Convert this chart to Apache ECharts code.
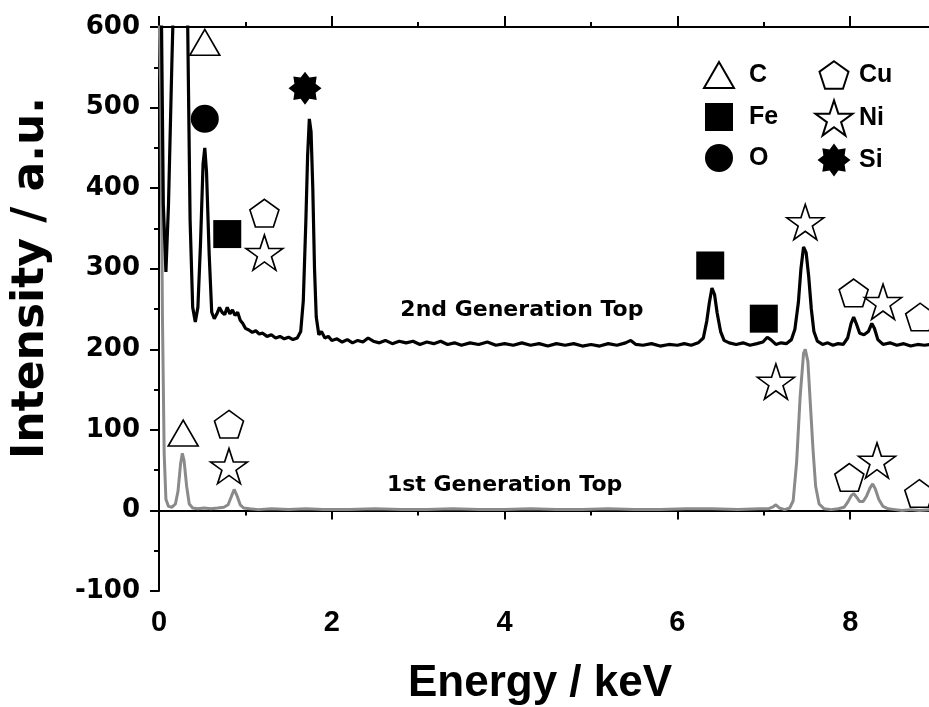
<!DOCTYPE html>
<html>
<head>
<meta charset="utf-8">
<script src="https://cdn.jsdelivr.net/npm/echarts@6/dist/echarts.min.js"></script>
<style>
  html, body { margin: 0; padding: 0; background: #fff; }
  #chart { width: 929px; height: 707px; }
</style>
</head>
<body>
<div id="chart"></div>
<script>
// EDS spectra: [energy keV, intensity a.u.]
const gen2Spectrum = [
  [0.00, 760], [0.02, 700], [0.05, 380], [0.08, 296], [0.11, 380], [0.15, 560],
  [0.19, 720], [0.24, 860], [0.29, 840], [0.33, 620], [0.36, 360], [0.39, 252],
  [0.42, 234], [0.45, 252], [0.48, 330], [0.51, 430], [0.53, 450], [0.55, 420],
  [0.58, 320], [0.61, 246], [0.64, 238], [0.67, 244], [0.70, 252], [0.73, 246],
  [0.76, 243], [0.79, 252], [0.82, 244], [0.85, 249], [0.88, 242], [0.91, 246],
  [0.94, 236], [0.97, 232], [1.00, 226], [1.04, 224], [1.08, 221], [1.12, 223],
  [1.16, 219], [1.20, 220], [1.25, 216], [1.30, 218], [1.35, 214], [1.40, 216],
  [1.45, 213], [1.50, 215], [1.55, 212], [1.60, 214], [1.64, 222], [1.67, 260],
  [1.70, 360], [1.72, 440], [1.74, 486], [1.76, 470], [1.78, 400], [1.80, 300],
  [1.82, 240], [1.85, 218], [1.88, 222], [1.92, 214], [1.96, 216], [2.00, 211],
  [2.06, 213], [2.12, 209], [2.18, 212], [2.24, 208], [2.30, 211], [2.36, 209],
  [2.42, 214], [2.48, 210], [2.55, 208], [2.62, 211], [2.70, 207], [2.78, 210],
  [2.86, 208], [2.94, 210], [3.02, 206], [3.10, 209], [3.18, 207], [3.26, 210],
  [3.34, 206], [3.42, 208], [3.50, 205], [3.60, 208], [3.70, 206], [3.80, 209],
  [3.90, 205], [4.00, 207], [4.10, 205], [4.20, 208], [4.30, 205], [4.40, 207],
  [4.50, 204], [4.60, 207], [4.70, 205], [4.80, 207], [4.90, 204], [5.00, 206],
  [5.10, 204], [5.20, 207], [5.30, 205], [5.40, 208], [5.46, 211], [5.52, 206],
  [5.60, 205], [5.70, 207], [5.80, 204], [5.90, 206], [6.00, 205], [6.08, 207],
  [6.16, 205], [6.24, 208], [6.30, 214], [6.34, 235], [6.37, 258], [6.40, 276],
  [6.43, 268], [6.46, 245], [6.50, 222], [6.54, 211], [6.60, 208], [6.68, 206],
  [6.76, 208], [6.84, 205], [6.92, 207], [6.99, 209], [7.04, 215], [7.08, 212],
  [7.14, 206], [7.20, 208], [7.26, 207], [7.32, 212], [7.36, 225], [7.40, 258],
  [7.43, 300], [7.46, 327], [7.49, 320], [7.52, 290], [7.55, 250], [7.58, 222],
  [7.62, 210], [7.68, 206], [7.74, 208], [7.80, 205], [7.86, 207], [7.92, 206],
  [7.97, 214], [8.01, 232], [8.04, 240], [8.07, 232], [8.11, 220], [8.16, 218],
  [8.21, 222], [8.25, 232], [8.28, 226], [8.32, 212], [8.38, 206], [8.46, 208],
  [8.54, 205], [8.62, 207], [8.70, 204], [8.78, 206], [8.86, 205], [8.94, 206]
];

const gen1Spectrum = [
  [0.00, 620], [0.02, 520], [0.04, 240], [0.06, 70], [0.08, 14], [0.11, 5],
  [0.15, 4], [0.19, 8], [0.22, 24], [0.25, 58], [0.27, 71], [0.29, 62],
  [0.32, 30], [0.35, 8], [0.39, 3], [0.45, 2], [0.52, 3], [0.60, 2],
  [0.68, 3], [0.75, 4], [0.80, 7], [0.84, 18], [0.87, 26], [0.90, 19],
  [0.94, 7], [0.98, 3], [1.05, 2], [1.15, 1], [1.30, 2], [1.50, 1],
  [1.70, 2], [1.90, 1], [2.20, 1], [2.50, 2], [2.80, 1], [3.10, 1],
  [3.40, 2], [3.70, 1], [4.00, 1], [4.30, 2], [4.60, 1], [4.90, 1],
  [5.20, 2], [5.50, 1], [5.80, 1], [6.10, 2], [6.40, 2], [6.70, 1],
  [6.95, 2], [7.05, 2], [7.10, 4], [7.14, 7], [7.18, 3], [7.24, 1],
  [7.30, 3], [7.34, 12], [7.38, 60], [7.42, 140], [7.46, 195], [7.48, 200],
  [7.51, 185], [7.54, 130], [7.57, 75], [7.60, 30], [7.64, 8], [7.70, 2],
  [7.78, 1], [7.86, 2], [7.93, 4], [7.97, 10], [8.01, 18], [8.04, 21],
  [8.07, 17], [8.11, 11], [8.15, 11], [8.19, 18], [8.23, 28], [8.26, 33],
  [8.29, 27], [8.33, 14], [8.38, 5], [8.44, 2], [8.52, 1], [8.60, 0],
  [8.70, 1], [8.80, 0], [8.94, 1]
];

// peak assignments: [energy keV, intensity a.u.]
const carbonMarks = [[0.53, 581], [0.28, 96]];
const ironMarks = [[0.79, 343], [6.38, 304], [7.00, 238]];
const oxygenMarks = [[0.53, 486]];
const copperMarks = [[1.22, 369], [8.04, 270], [8.81, 240], [0.81, 107], [7.99, 41], [8.80, 21]];
const nickelMarks = [[1.22, 320], [7.48, 358], [8.38, 259], [0.81, 55], [7.14, 160], [8.31, 62]];
const siliconMarks = [[1.69, 524]];

const elementNames = ['C', 'Fe', 'O', 'Cu', 'Ni', 'Si'];
const spectrumLabels = [[4.2, 249, '2nd Generation Top'], [4.0, 31, '1st Generation Top']];

const xTicks = { min: 0, max: 10, step: 2 };
const yTicks = { min: -100, max: 600, step: 100 };

// symbol outlines, all drawn inside the same 40x36 frame
const FRAME = 'M0,0 M40,36 ';
const SYM = {
  triangle: 'path://' + FRAME + 'M20,5 L35,31 L5,31 Z',
  square: 'path://' + FRAME + 'M6,4 L34,4 L34,32 L6,32 Z',
  circle: 'path://' + FRAME + 'M6,18 A14,14 0 1,0 34,18 A14,14 0 1,0 6,18 Z',
  pentagon: 'path://' + FRAME + 'M20,4.2 L34.5,14.75 L28.96,31.8 L11.04,31.8 L5.5,14.75 Z',
  star: 'path://' + FRAME + 'M20,0.36 L24.38,13.83 L38.55,13.83 L27.09,22.16 L31.46,35.64 L20,27.31 L8.54,35.64 L12.91,22.16 L1.45,13.83 L15.62,13.83 Z',
  star8: 'path://' + FRAME + 'M20,1.5 L24.4,7.38 L31.67,6.33 L30.62,13.6 L36.5,18 L30.62,22.4 L31.67,29.67 L24.4,28.62 L20,34.5 L15.6,28.62 L8.33,29.67 L9.38,22.4 L3.5,18 L9.38,13.6 L8.33,6.33 L15.6,7.38 Z'
};

const FONT = '"Liberation Sans", Arial, sans-serif';
const WIDE_FONT = '"DejaVu Sans", sans-serif';
const openStyle = { color: '#fff', borderColor: '#000', borderWidth: 1.6, opacity: 1 };
const solidStyle = { color: '#000', borderColor: '#000', borderWidth: 0, opacity: 1 };

function markSeries(name, data, symbol, style) {
  return {
    type: 'scatter', name: name, data: data, symbol: symbol,
    symbolSize: [40, 36], itemStyle: style, z: 5, silent: true
  };
}

const chart = echarts.init(document.getElementById('chart'), null, { renderer: 'canvas' });

const axisLineStyle = { color: '#000', width: 2 };

chart.setOption({
  animation: false,
  backgroundColor: '#fff',
  grid: { left: 159, top: 27, width: 864, height: 564, outerBoundsMode: 'none', containLabel: false },
  xAxis: [
    {
      type: 'value', min: xTicks.min, max: xTicks.max, interval: xTicks.step, position: 'bottom',
      axisLine: { lineStyle: axisLineStyle },
      axisTick: { inside: false, length: 9, lineStyle: { color: '#000', width: 2 } },
      minorTick: { show: true, splitNumber: 2, length: 5, lineStyle: { color: '#000', width: 2 } },
      splitLine: { show: false },
      axisLabel: { margin: 17, fontSize: 29, fontWeight: 'bold', color: '#000', fontFamily: FONT }
    },
    {
      type: 'value', min: xTicks.min, max: xTicks.max, interval: xTicks.step, position: 'top',
      axisLine: { lineStyle: axisLineStyle },
      axisTick: { inside: false, length: 11, lineStyle: { color: '#000', width: 2 } },
      minorTick: { show: true, splitNumber: 2, length: 5, lineStyle: { color: '#000', width: 2 } },
      splitLine: { show: false },
      axisLabel: { show: false }
    }
  ],
  yAxis: {
    type: 'value', min: yTicks.min, max: yTicks.max, interval: yTicks.step,
    axisLine: { show: true, lineStyle: axisLineStyle },
    axisTick: { show: true, inside: false, length: 9, lineStyle: { color: '#000', width: 2 } },
    minorTick: { show: true, splitNumber: 2, length: 5, lineStyle: { color: '#000', width: 2 } },
    splitLine: { show: false },
    axisLabel: { margin: 19, fontSize: 26, fontWeight: 'bold', color: '#000', fontFamily: WIDE_FONT }
  },
  legend: [
    {
      data: elementNames.slice(0, 3), orient: 'vertical', left: 698, top: 56, padding: 0,
      itemWidth: 40, itemHeight: 36, itemGap: 5, selectedMode: false,
      textStyle: { fontSize: 25, fontWeight: 'bold', color: '#000', fontFamily: FONT, padding: [8, 0, 0, 5] }
    },
    {
      data: elementNames.slice(3), orient: 'vertical', left: 813, top: 56, padding: 0,
      itemWidth: 40, itemHeight: 36, itemGap: 5, selectedMode: false,
      textStyle: { fontSize: 25, fontWeight: 'bold', color: '#000', fontFamily: FONT, padding: [8, 0, 0, 0] }
    }
  ],
  graphic: [
    {
      type: 'text', x: 32, y: 278, rotation: Math.PI / 2,
      style: {
        text: 'Intensity / a.u.', fontSize: 44, fontWeight: 'bold', fill: '#000',
        fontFamily: WIDE_FONT, align: 'center', verticalAlign: 'middle'
      }
    },
    {
      type: 'text', x: 540, y: 684,
      style: {
        text: 'Energy / keV', fontSize: 44, fontWeight: 'bold', fill: '#000',
        fontFamily: FONT, align: 'center', verticalAlign: 'middle'
      }
    }
  ],
  series: [
    {
      type: 'line', name: '1st Generation Top', data: gen1Spectrum, showSymbol: false,
      lineStyle: { color: '#8a8a8a', width: 3 }, z: 2, clip: true, silent: true
    },
    {
      type: 'line', name: '2nd Generation Top', data: gen2Spectrum, showSymbol: false,
      lineStyle: { color: '#000', width: 3.2 }, z: 3, clip: true, silent: true
    },
    markSeries('C', carbonMarks, SYM.triangle, openStyle),
    markSeries('Fe', ironMarks, SYM.square, solidStyle),
    markSeries('O', oxygenMarks, SYM.circle, solidStyle),
    markSeries('Cu', copperMarks, SYM.pentagon, openStyle),
    markSeries('Ni', nickelMarks, SYM.star, openStyle),
    markSeries('Si', siliconMarks, SYM.star8, solidStyle),
    {
      type: 'scatter', name: 'spectrum labels', data: spectrumLabels, symbolSize: 1,
      itemStyle: { color: 'rgba(0,0,0,0)', opacity: 1 }, silent: true, z: 4,
      label: {
        show: true, position: 'inside', formatter: p => p.value[2],
        fontSize: 22, fontWeight: 'bold', color: '#000', fontFamily: WIDE_FONT
      }
    }
  ]
});
</script>
</body>
</html>
